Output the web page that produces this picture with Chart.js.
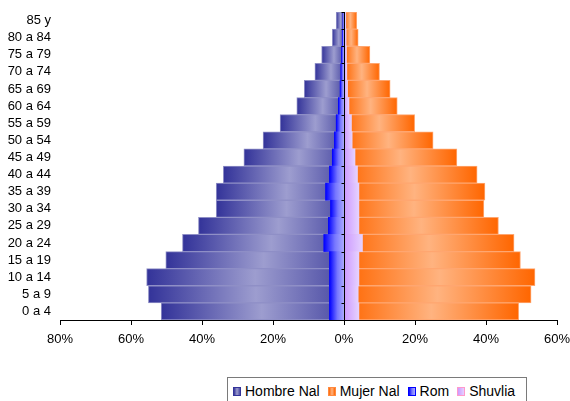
<!DOCTYPE html>
<html>
<head>
<meta charset="utf-8">
<script src="https://cdn.jsdelivr.net/npm/chart.js@4.4.1/dist/chart.umd.min.js"></script>
<style>
  html, body { margin: 0; padding: 0; background: #fff; }
  #wrap { position: relative; width: 570px; height: 401px; overflow: hidden; }
  #legend {
    position: absolute; left: 227px; top: 377px; width: 300px; height: 30px;
    border: 1px solid #7a7a7a; background: #fff; box-sizing: border-box;
    font-family: 'Liberation Sans', Arial, sans-serif; font-size: 14px; color: #000;
    display: flex; align-items: flex-start; padding: 5px 0 0 5px; white-space: nowrap;
  }
  .item { display: flex; align-items: center; margin-right: 8px; }
  .icon { width: 8px; height: 9px; margin-right: 4px; box-sizing: border-box; border: 1px solid; }
</style>
</head>
<body>
<div id="wrap">
  <canvas id="c" width="570" height="401"></canvas>
  <div id="legend"></div>
</div>
<script>
const categories = ['85 y','80 a 84','75 a 79','70 a 74','65 a 69','60 a 64','55 a 59','50 a 54','45 a 49','40 a 44','35 a 39','30 a 34','25 a 29','20 a 24','15 a 19','10 a 14','5 a 9','0 a 4'];
const seriesNames = ['Hombre Nal','Mujer Nal','Rom','Shuvlia'];
const hombreNal = [2.2,3.3,6.3,8.2,11.2,13.3,18.0,22.8,28.2,34.0,36.0,36.0,41.0,45.5,50.2,55.6,55.1,51.5];
const mujerNal  = [3.6,4.0,7.3,10.0,13.0,15.0,19.9,25.1,31.8,37.5,39.7,39.4,43.5,47.9,49.7,53.8,52.7,49.2];
const rom       = [0.3,0.5,0.7,0.9,1.1,1.6,2.2,2.7,3.3,4.1,5.2,3.8,4.4,5.7,4.1,4.1,4.1,4.1];
const shuvlia   = [0.5,0.6,0.7,0.8,1.0,1.4,2.1,2.3,3.1,3.8,4.2,4.2,4.2,5.2,4.2,4.2,4.0,4.2];
const xTicks = [-80,-60,-40,-20,0,20,40,60];

const gradStops = {
  hombre: [[0,'#333399'],[0.55,'#9d9dcf'],[1,'#4b4ba3']],
  mujer:  [[0,'#ff6600'],[0.5,'#ffb380'],[1,'#ff6600']],
  rom:    [[0,'#0000ff'],[0.55,'#7777ff'],[1,'#aaaaff']],
  shuv:   [[0,'#cc99ff'],[1,'#e6d2ff']]
};

function grad(stops) {
  return (ctx) => {
    const chart = ctx.chart;
    const xs = chart.scales && chart.scales.x;
    if (!xs || !chart.chartArea || ctx.type !== 'data' || ctx.raw == null) return stops[0][1];
    const a = xs.getPixelForValue(0), b = xs.getPixelForValue(ctx.raw);
    const l = Math.min(a, b), r = Math.max(a, b);
    if (!isFinite(l) || !isFinite(r) || r - l < 1) return stops[0][1];
    const g = chart.ctx.createLinearGradient(l, 0, r, 0);
    stops.forEach(s => g.addColorStop(s[0], s[1]));
    return g;
  };
}

// small tick marks on the zero axis, at category boundaries
const zeroAxisTicks = {
  id: 'zeroAxisTicks',
  afterDatasetsDraw(chart) {
    const xs = chart.scales.x, ys = chart.scales.y, c = chart.ctx;
    const x0 = Math.round(xs.getPixelForValue(0)) + 0.5;
    const n = categories.length;
    const step = ys.getPixelForValue(1) - ys.getPixelForValue(0);
    c.save();
    c.strokeStyle = '#000'; c.lineWidth = 1;
    c.beginPath();
    c.moveTo(x0, chart.chartArea.top); c.lineTo(x0, chart.chartArea.bottom);
    for (let i = 0; i <= n; i++) {
      const y = Math.round(ys.getPixelForValue(i) - step / 2) + 0.5;
      c.moveTo(x0 - 3, y); c.lineTo(x0, y);
    }
    c.stroke();
    c.restore();
  }
};

const font = { family: "'Liberation Sans', Arial, sans-serif", size: 13 };

new Chart(document.getElementById('c'), {
  type: 'bar',
  data: {
    labels: categories,
    datasets: [
      { label: seriesNames[0], data: hombreNal.map(v => -v), backgroundColor: grad(gradStops.hombre),
        borderColor: '#8f8fc6', borderWidth: 1, grouped: false, order: 2 },
      { label: seriesNames[1], data: mujerNal, backgroundColor: grad(gradStops.mujer),
        borderColor: '#ffa670', borderWidth: 1, grouped: false, order: 2 },
      { label: seriesNames[2], data: rom.map(v => -v), backgroundColor: grad(gradStops.rom),
        borderWidth: 0, grouped: false, order: 1 },
      { label: seriesNames[3], data: shuvlia, backgroundColor: grad(gradStops.shuv),
        borderWidth: 0, grouped: false, order: 1 }
    ]
  },
  options: {
    indexAxis: 'y',
    responsive: false,
    animation: false,
    maintainAspectRatio: false,
    categoryPercentage: 1,
    barPercentage: 1,
    layout: { padding: { left: 0, right: 13, top: 12, bottom: 0 } },
    plugins: { legend: { display: false }, tooltip: { enabled: false } },
    scales: {
      x: {
        type: 'linear', min: -80, max: 60,
        afterBuildTicks: s => { s.ticks = xTicks.map(v => ({ value: v })); },
        afterFit: s => { s.height = 81; s.paddingLeft = 0; s.paddingRight = 0; },
        ticks: { callback: v => Math.abs(v) + '%', color: '#000', font: font, padding: 7, maxRotation: 0 },
        grid: { drawOnChartArea: false, drawTicks: true, tickLength: 5, color: '#000' },
        border: { display: true, color: '#000', width: 1 }
      },
      y: {
        type: 'category', position: 'left', offset: true,
        afterFit: s => { s.width = 60; s.paddingTop = 0; s.paddingBottom = 0; },
        ticks: { color: '#000', font: font, padding: 9, autoSkip: false },
        grid: { display: false, drawTicks: false },
        border: { display: false }
      }
    }
  },
  plugins: [zeroAxisTicks]
});

const legendColors = [
  ['linear-gradient(to right,#333399,#9d9dcf,#4b4ba3)', '#333399'],
  ['linear-gradient(to right,#ff6600,#ffb380,#ff6600)', '#ff8a40'],
  ['linear-gradient(to right,#0000ff,#7777ff,#aaaaff)', '#0000ff'],
  ['linear-gradient(to right,#cc99ff,#e6d2ff)', '#ff99cc']
];
const lg = document.getElementById('legend');
seriesNames.forEach((n, i) => {
  const it = document.createElement('div'); it.className = 'item';
  const ic = document.createElement('span'); ic.className = 'icon';
  ic.style.background = legendColors[i][0]; ic.style.borderColor = legendColors[i][1];
  const tx = document.createElement('span'); tx.textContent = n;
  it.appendChild(ic); it.appendChild(tx); lg.appendChild(it);
});
</script>
</body>
</html>
